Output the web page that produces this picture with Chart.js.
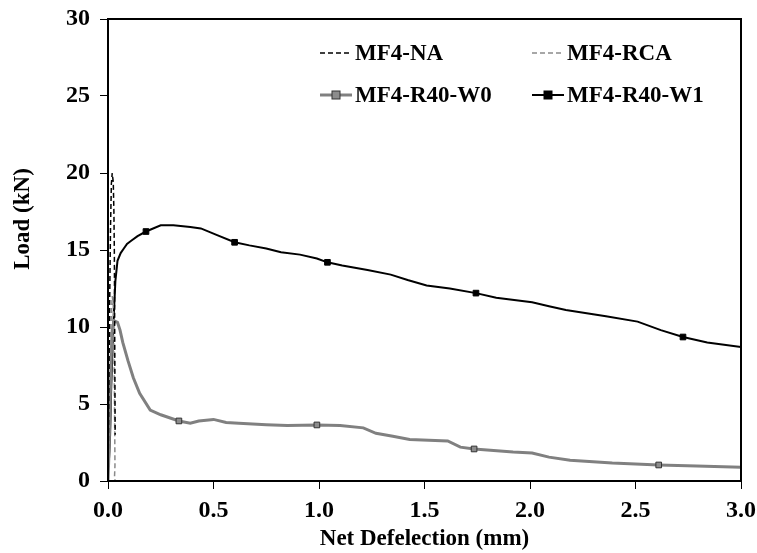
<!DOCTYPE html>
<html><head><meta charset="utf-8">
<script src="https://cdn.jsdelivr.net/npm/chart.js@4"></script>
<style>html,body{margin:0;padding:0;background:#fff}</style>
</head><body>
<canvas id="c" width="757" height="553"></canvas>
<script>
// ---- data ----
const seriesNames = ["MF4-NA", "MF4-RCA", "MF4-R40-W0", "MF4-R40-W1"];

const naX = [0.000, 0.003, 0.006, 0.009, 0.012, 0.016, 0.020, 0.025, 0.028, 0.030, 0.031, 0.032, 0.033, 0.034];
const naY = [0.0, 4.0, 9.0, 13.0, 16.5, 19.3, 20.0, 19.4, 17.5, 15.0, 12.0, 9.0, 6.0, 3.0];

const rcaX = [0.000, 0.005, 0.010, 0.015, 0.020, 0.025, 0.028, 0.030, 0.032, 0.033, 0.031, 0.034];
const rcaY = [0.0, 3.5, 7.5, 10.5, 12.0, 11.5, 9.0, 6.0, 3.0, 1.0, 0.3, 0.0];

const w0X = [0.000, 0.005, 0.010, 0.015, 0.020, 0.030, 0.045, 0.057, 0.070, 0.095, 0.120, 0.150, 0.200, 0.250, 0.336, 0.390, 0.430, 0.500, 0.560, 0.620, 0.750, 0.850, 0.990, 1.100, 1.210, 1.270, 1.350, 1.430, 1.610, 1.670, 1.735, 1.920, 2.010, 2.090, 2.190, 2.390, 2.610, 2.790, 3.000];
const w0Y = [0.0, 2.0, 5.0, 8.0, 9.8, 10.4, 10.3, 9.8, 9.0, 7.8, 6.7, 5.7, 4.6, 4.3, 3.9, 3.75, 3.9, 4.0, 3.8, 3.75, 3.65, 3.6, 3.64, 3.6, 3.45, 3.1, 2.9, 2.7, 2.6, 2.2, 2.08, 1.88, 1.82, 1.55, 1.35, 1.17, 1.04, 0.97, 0.9];
const w0Markers = [0.336, 0.990, 1.735, 2.610];

const w1X = [0.005, 0.010, 0.015, 0.020, 0.025, 0.030, 0.035, 0.045, 0.060, 0.075, 0.090, 0.110, 0.140, 0.180, 0.250, 0.310, 0.390, 0.440, 0.520, 0.600, 0.670, 0.750, 0.820, 0.910, 0.990, 1.040, 1.110, 1.230, 1.340, 1.420, 1.510, 1.620, 1.744, 1.840, 2.010, 2.090, 2.170, 2.360, 2.510, 2.620, 2.725, 2.840, 3.000];
const w1Y = [1.5, 3.0, 6.0, 8.0, 10.0, 11.5, 13.0, 14.3, 14.8, 15.1, 15.4, 15.6, 15.9, 16.2, 16.6, 16.6, 16.5, 16.4, 15.95, 15.5, 15.3, 15.1, 14.85, 14.7, 14.45, 14.2, 14.0, 13.7, 13.4, 13.05, 12.7, 12.5, 12.2, 11.9, 11.6, 11.35, 11.1, 10.7, 10.35, 9.8, 9.35, 9.0, 8.7];
const w1Markers = [0.180, 0.600, 1.040, 1.744, 2.725];

const xTicks = [0.0, 0.5, 1.0, 1.5, 2.0, 2.5, 3.0];
const yTicks = [0, 5, 10, 15, 20, 25, 30];
const xTitle = "Net Defelection (mm)";
const yTitle = "Load (kN)";

// ---- build ----
const pts = (xs, ys) => xs.map((x, i) => ({x: x, y: ys[i]}));
const FONT = '"Liberation Serif", "Times New Roman", serif';
const markerRadius = (xs, marks, r) => xs.map(x => marks.includes(x) ? r : 0);

const datasets = [
  {label: seriesNames[0], data: pts(naX, naY), borderColor: '#000', borderWidth: 1.5, borderDash: [5, 3], pointRadius: 0, marker: false},
  {label: seriesNames[1], data: pts(rcaX, rcaY), borderColor: '#8a8a8a', borderWidth: 1.5, borderDash: [5, 3], pointRadius: 0, marker: false},
  {label: seriesNames[2], data: pts(w0X, w0Y), borderColor: '#808080', borderWidth: 3, pointStyle: 'rect',
   pointRadius: markerRadius(w0X, w0Markers, 4), pointBackgroundColor: '#8c8c8c', pointBorderColor: '#333', pointBorderWidth: 1, marker: true},
  {label: seriesNames[3], data: pts(w1X, w1Y), borderColor: '#000', borderWidth: 2, pointStyle: 'rect',
   pointRadius: markerRadius(w1X, w1Markers, 4), pointBackgroundColor: '#000', pointBorderColor: '#000', pointBorderWidth: 1, marker: true}
];

const legendSpots = [[320, 53], [532, 53], [320, 95], [532, 95]];

const decor = {
  id: 'decor',
  afterDraw(chart) {
    const ctx = chart.ctx, a = chart.chartArea;
    ctx.save();
    ctx.strokeStyle = '#000'; ctx.lineWidth = 2;
    ctx.strokeRect(a.left, a.top, a.right - a.left, a.bottom - a.top);
    // legend
    ctx.font = 'bold 23px ' + FONT;
    ctx.textBaseline = 'middle';
    ctx.fillStyle = '#000';
    chart.data.datasets.forEach((ds, i) => {
      const [lx, ly] = legendSpots[i];
      ctx.save();
      ctx.strokeStyle = ds.borderColor;
      ctx.lineWidth = ds.borderWidth;
      ctx.setLineDash(ds.borderDash || []);
      ctx.beginPath(); ctx.moveTo(lx, ly); ctx.lineTo(lx + 32, ly); ctx.stroke();
      if (ds.marker) {
        ctx.setLineDash([]);
        ctx.fillStyle = ds.pointBackgroundColor;
        ctx.fillRect(lx + 12, ly - 4, 8, 8);
        ctx.strokeStyle = ds.pointBorderColor; ctx.lineWidth = 1;
        ctx.strokeRect(lx + 12, ly - 4, 8, 8);
      }
      ctx.restore();
      ctx.fillText(ds.label, lx + 35, ly + 1);
    });
    // y title
    ctx.translate(23, 219);
    ctx.rotate(-Math.PI / 2);
    ctx.textAlign = 'center';
    ctx.fillText(yTitle, 0, 0);
    ctx.restore();
  }
};

new Chart(document.getElementById('c'), {
  type: 'line',
  data: {datasets: datasets},
  options: {
    responsive: false, animation: false, devicePixelRatio: 1,
    layout: {padding: {left: 0, right: 16, top: 19, bottom: 0}},
    plugins: {legend: {display: false}, tooltip: {enabled: false}},
    elements: {line: {tension: 0}},
    scales: {
      x: {
        type: 'linear', min: 0, max: 3,
        afterBuildTicks: s => { s.ticks = xTicks.map(v => ({value: v})); },
        afterFit: s => { s.height = 72; s.paddingLeft = 0; s.paddingRight = 0; },
        ticks: {callback: v => Number(v).toFixed(1), color: '#000', font: {family: FONT, size: 24, weight: 'bold'}, padding: 7, maxRotation: 0},
        grid: {display: true, drawOnChartArea: false, drawTicks: true, tickLength: 8, color: '#000', lineWidth: 1},
        border: {display: false},
        title: {display: true, text: xTitle, color: '#000', font: {family: FONT, size: 23, weight: 'bold'}, padding: {top: 0, bottom: 0}}
      },
      y: {
        type: 'linear', min: 0, max: 30,
        afterBuildTicks: s => { s.ticks = yTicks.map(v => ({value: v})); },
        afterFit: s => { s.width = 108; s.paddingTop = 0; s.paddingBottom = 0; },
        ticks: {color: '#000', font: {family: FONT, size: 24, weight: 'bold'}, padding: 10},
        grid: {display: true, drawOnChartArea: false, drawTicks: true, tickLength: 8, color: '#000', lineWidth: 1},
        border: {display: false}
      }
    }
  },
  plugins: [decor]
});
</script>
</body></html>
